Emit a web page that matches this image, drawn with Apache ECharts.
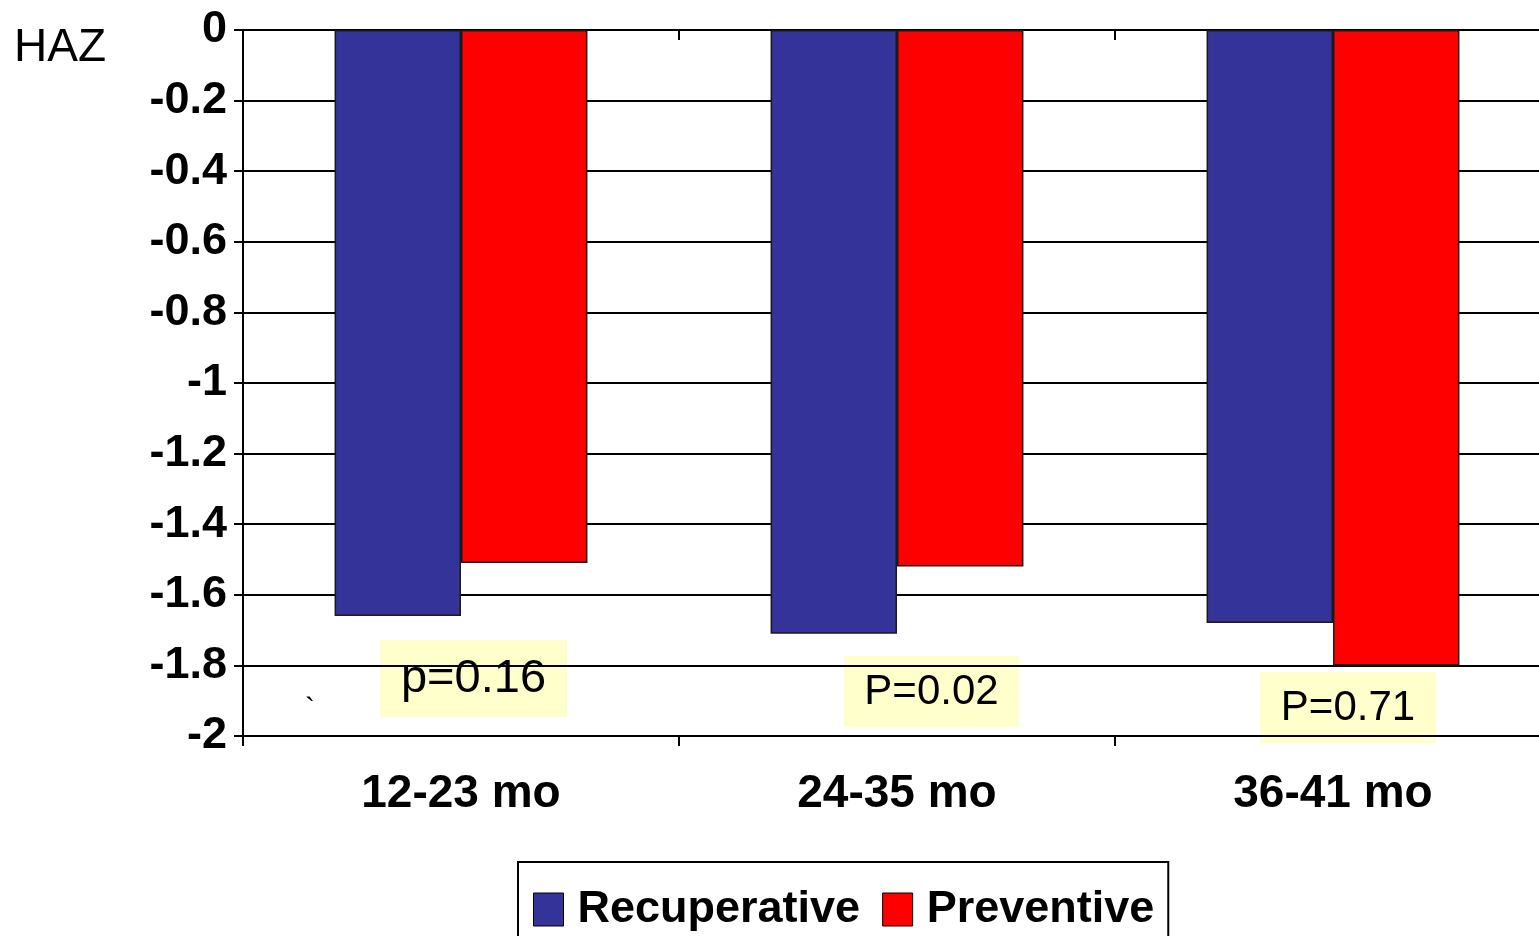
<!DOCTYPE html>
<html>
<head>
<meta charset="utf-8">
<script src="https://cdn.jsdelivr.net/npm/echarts@6/dist/echarts.min.js"></script>
<style>
  html, body { margin: 0; padding: 0; background: #fff; }
  #chart { width: 1539px; height: 936px; }
</style>
</head>
<body>
<div id="chart"></div>
<script>
// Height-for-age z-scores by age group and programme type
const categories = ['12-23 mo', '24-35 mo', '36-41 mo'];
const recuperative = [-1.66, -1.71, -1.68];
const preventive = [-1.51, -1.52, -1.80];
const pLabels = ['p=0.16', 'P=0.02', 'P=0.71'];
const yMin = -2, yMax = 0, yStep = 0.2;

const FONT = '"Liberation Sans", Arial, Helvetica, sans-serif';
const barBorder = { borderColor: '#1a1a1a', borderWidth: 1.5 };

// annotation boxes placed under each age group
const pBoxes = [
  { left: 380, top: 640, w: 187, h: 77, size: 47 },
  { left: 844, top: 656, w: 175, h: 71, size: 42 },
  { left: 1260, top: 672, w: 176, h: 71, size: 42 }
];

const chart = echarts.init(document.getElementById('chart'), null, { renderer: 'canvas' });

chart.setOption({
  animation: false,
  backgroundColor: '#fff',
  // plot runs slightly past the right edge of the page
  grid: { left: 243, top: 30, bottom: 200, width: 1308, containLabel: false, outerBoundsMode: 'none' },
  legend: {
    left: 518, top: 862,
    padding: [25, 14, 25, 15],
    borderColor: '#000', borderWidth: 2,
    itemWidth: 30, itemHeight: 33, itemGap: 22,
    icon: 'rect',
    itemStyle: { borderColor: '#000', borderWidth: 1 },
    textStyle: { fontFamily: FONT, fontSize: 45, fontWeight: 'bold', color: '#000', padding: [0, 0, 0, 9] },
    data: ['Recuperative', 'Preventive']
  },
  xAxis: [
    {
      type: 'category', data: categories, position: 'bottom',
      axisLine: { onZero: false, lineStyle: { color: '#000', width: 2 } },
      axisTick: { show: true, length: 10, lineStyle: { color: '#000', width: 2 } },
      axisLabel: { margin: 35, fontFamily: FONT, fontSize: 46, fontWeight: 'bold', color: '#000' }
    },
    {
      type: 'category', data: categories, position: 'top',
      axisLine: { onZero: false, lineStyle: { color: '#000', width: 2 } },
      axisTick: { show: true, inside: true, length: 10, lineStyle: { color: '#000', width: 2 } },
      axisLabel: { show: false }
    }
  ],
  yAxis: {
    type: 'value', min: yMin, max: yMax, interval: yStep,
    axisLine: { show: true, lineStyle: { color: '#000', width: 2 } },
    axisTick: { show: true, length: 9, lineStyle: { color: '#000', width: 2 } },
    axisLabel: { margin: 16, fontFamily: FONT, fontSize: 45, fontWeight: 'bold', color: '#000' },
    splitLine: { show: true, lineStyle: { color: '#000', width: 2 } }
  },
  series: [
    {
      name: 'Recuperative', type: 'bar', data: recuperative,
      barGap: '0%', barCategoryGap: '42%',
      itemStyle: Object.assign({ color: '#333399' }, barBorder)
    },
    {
      name: 'Preventive', type: 'bar', data: preventive,
      barGap: '0%', barCategoryGap: '42%',
      itemStyle: Object.assign({ color: '#ff0000' }, barBorder)
    }
  ],
  graphic: [
    {
      type: 'text', left: 14, top: 25,
      style: { text: 'HAZ', fontFamily: FONT, fontSize: 46, fill: '#000' }
    },
    {
      type: 'text', left: 305, top: 695,
      style: { text: '`', fontFamily: FONT, fontSize: 30, fill: '#000' }
    }
  ].concat(pLabels.map((t, i) => ({
    type: 'group', left: pBoxes[i].left, top: pBoxes[i].top,
    children: [
      { type: 'rect', shape: { x: 0, y: 0, width: pBoxes[i].w, height: pBoxes[i].h },
        style: { fill: '#ffffcc' } },
      { type: 'text', x: pBoxes[i].w / 2, y: pBoxes[i].h / 2 + 1,
        style: { text: t, fontFamily: FONT, fontSize: pBoxes[i].size, fill: '#000', align: 'center', verticalAlign: 'middle' } }
    ]
  })))
});
</script>
</body>
</html>
